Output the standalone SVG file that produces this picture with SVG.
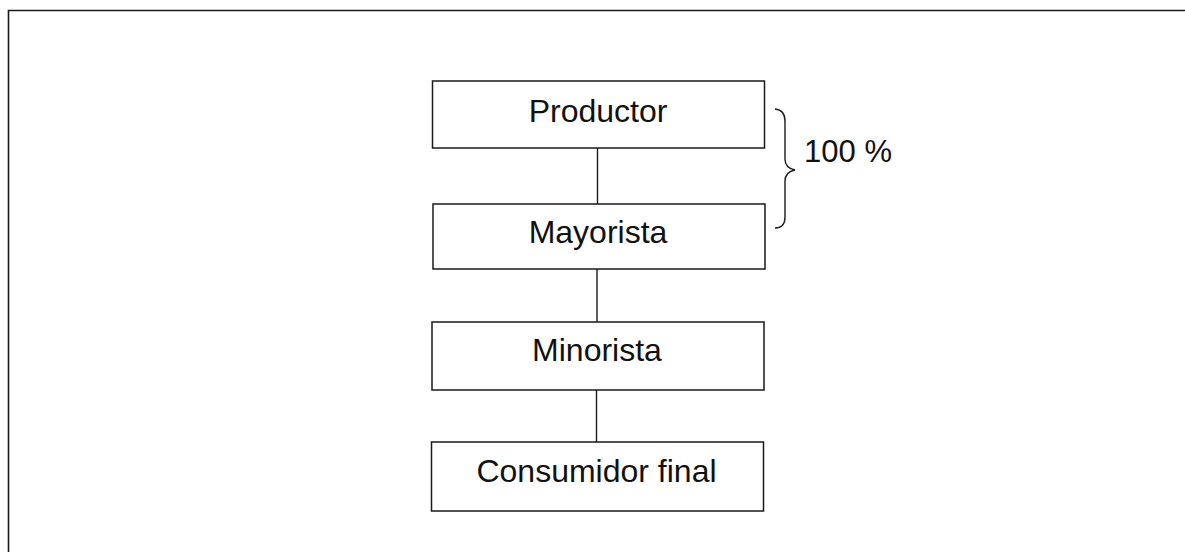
<svg xmlns="http://www.w3.org/2000/svg" width="1185" height="552" viewBox="0 0 1185 552">
<style>
.box{fill:#fff;stroke:#1a1a1a;stroke-width:1.5}
.lbl{font-family:"Liberation Sans",Arial,sans-serif;font-size:32px;fill:#111;text-anchor:middle}
.con{stroke:#1a1a1a;stroke-width:1.4;fill:none}
</style>
<rect width="1185" height="552" fill="#fff"/>
<path d="M8.5,552 V10.5 H1185" fill="none" stroke="#1a1a1a" stroke-width="1.6"/>
<g id="connectors">
<line class="con" x1="597.5" y1="148" x2="597.5" y2="204"/>
<line class="con" x1="597" y1="269" x2="597" y2="322"/>
<line class="con" x1="596.5" y1="390" x2="596.5" y2="442"/>
</g>
<g id="productor">
<rect class="box" x="432.5" y="81" width="332" height="67"/>
<text class="lbl" x="598" y="122">Productor</text>
</g>
<g id="mayorista">
<rect class="box" x="433" y="204" width="332" height="65"/>
<text class="lbl" x="598" y="243">Mayorista</text>
</g>
<g id="minorista">
<rect class="box" x="432" y="322" width="332" height="68"/>
<text class="lbl" x="597" y="361">Minorista</text>
</g>
<g id="consumidor">
<rect class="box" x="431.5" y="442" width="332" height="69"/>
<text class="lbl" x="596.5" y="482">Consumidor final</text>
</g>
<g id="brace">
<path class="con" d="M775,109 Q785,110 785,121 V159 Q785,168 795,170 Q785,172 785,181 V217 Q785,228 775,228"/>
<text class="lbl" style="font-size:31px" x="848" y="162">100 %</text>
</g>
</svg>
